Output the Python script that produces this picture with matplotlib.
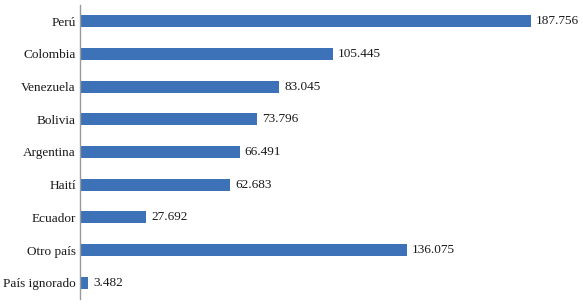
import matplotlib
matplotlib.use("Agg")
import matplotlib.pyplot as plt

paises = ["Perú", "Colombia", "Venezuela", "Bolivia", "Argentina", "Haití",
          "Ecuador", "Otro país", "País ignorado"]
valores = [187756, 105445, 83045, 73796, 66491, 62683, 27692, 136075, 3482]
etiquetas = ["187.756", "105.445", "83.045", "73.796", "66.491", "62.683",
             "27.692", "136.075", "3.482"]

plt.rcParams["font.family"] = ["Liberation Serif", "DejaVu Serif"]

fig = plt.figure(figsize=(5.83, 3.04), dpi=100)
ax = fig.add_axes([80 / 583, 5 / 304, 480 / 583, 294 / 304])

y = list(range(len(paises)))
ax.barh(y, valores, height=0.37, color="#3D72B8")
for yi, v, t in zip(y, valores, etiquetas):
    ax.text(v + 2000, yi, t, va="center", ha="left", fontsize=9.5, color="#1a1a1a")

ax.set_xlim(0, 200000)
ax.set_ylim(len(paises) - 0.5, -0.5)
ax.set_yticks(y)
ax.set_yticklabels(paises, fontsize=9.5, color="#1a1a1a")
ax.tick_params(axis="y", length=0, pad=3)
ax.set_xticks([])
for s in ["top", "right", "bottom"]:
    ax.spines[s].set_visible(False)
ax.spines["left"].set_color("#999999")
ax.spines["left"].set_linewidth(1.0)

fig.savefig("out.png", dpi=100)
